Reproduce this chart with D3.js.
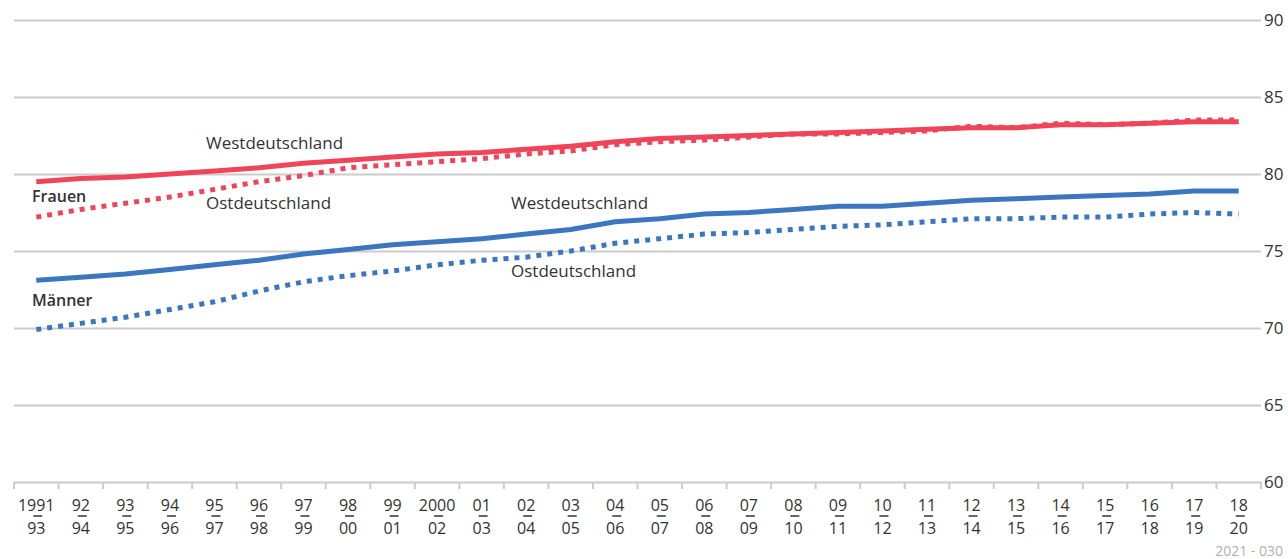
<!DOCTYPE html>
<html>
<head>
<meta charset="utf-8">
<script src="https://cdn.jsdelivr.net/npm/d3@7"></script>
<style>
  body { margin: 0; background: #fff; }
  text { font-family: "Open Sans", sans-serif; fill: #333; }
</style>
</head>
<body>
<div id="chart"></div>
<script>
// life expectancy at birth, three-year periods
var periodStart = ["1991", "92", "93", "94", "95", "96", "97", "98", "99", "2000",
    "01", "02", "03", "04", "05", "06", "07", "08", "09", "10",
    "11", "12", "13", "14", "15", "16", "17", "18"];
var periodEnd = ["93", "94", "95", "96", "97", "98", "99", "00", "01", "02",
    "03", "04", "05", "06", "07", "08", "09", "10", "11", "12",
    "13", "14", "15", "16", "17", "18", "19", "20"];

var womenWest = [79.5, 79.7, 79.8, 80.0, 80.2, 80.4, 80.7, 80.9, 81.1, 81.3,
    81.4, 81.6, 81.8, 82.1, 82.3, 82.4, 82.5, 82.6, 82.7, 82.8,
    82.9, 83.0, 83.0, 83.2, 83.2, 83.3, 83.4, 83.4];
var womenEast = [77.2, 77.7, 78.1, 78.5, 79.0, 79.5, 79.9, 80.4, 80.6, 80.8,
    81.0, 81.3, 81.5, 81.9, 82.1, 82.2, 82.4, 82.6, 82.6, 82.7,
    82.8, 83.1, 83.0, 83.3, 83.2, 83.3, 83.5, 83.5];
var menWest = [73.1, 73.3, 73.5, 73.8, 74.1, 74.4, 74.8, 75.1, 75.4, 75.6,
    75.8, 76.1, 76.4, 76.9, 77.1, 77.4, 77.5, 77.7, 77.9, 77.9,
    78.1, 78.3, 78.4, 78.5, 78.6, 78.7, 78.9, 78.9];
var menEast = [69.9, 70.3, 70.7, 71.2, 71.7, 72.4, 73.0, 73.4, 73.7, 74.1,
    74.4, 74.6, 75.0, 75.5, 75.8, 76.1, 76.2, 76.4, 76.6, 76.7,
    76.9, 77.1, 77.1, 77.2, 77.2, 77.4, 77.5, 77.4];

var yTicks = [60, 65, 70, 75, 80, 85, 90];

var red = "#ef4459";
var blue = "#3b77bf";

var svgWidth = 1288;
var svgHeight = 559;
var margin = { top: 20, right: 27, bottom: 77, left: 14 };
var width = svgWidth - margin.left - margin.right;
var height = svgHeight - margin.top - margin.bottom;

var svg = d3.select("#chart")
    .append("svg")
    .attr("width", svgWidth)
    .attr("height", svgHeight);

var chartGroup = svg.append("g")
    .attr("transform", `translate(${margin.left}, ${margin.top})`);

var xScale = d3.scaleBand()
    .domain(d3.range(periodStart.length))
    .range([0, width]);

var yScale = d3.scaleLinear()
    .domain([60, 90])
    .range([height, 0]);

// gridlines + right axis
var rightAxis = d3.axisRight(yScale)
    .tickValues(yTicks)
    .tickSize(-width)
    .tickPadding(5);

var yAxisGroup = chartGroup.append("g")
    .attr("transform", `translate(${width}, 0)`)
    .call(rightAxis);
yAxisGroup.select(".domain").remove();
yAxisGroup.selectAll("line")
    .attr("stroke", "#cbcbcb")
    .attr("stroke-width", 2);
yAxisGroup.selectAll("text")
    .attr("font-size", 17)
    .attr("dx", -2)
    .attr("fill", "#333");

// band boundary ticks
var boundaries = d3.range(periodStart.length).map(i => xScale(i)).concat([width]);
chartGroup.append("g")
    .selectAll("line")
    .data(boundaries)
    .enter()
    .append("line")
    .attr("x1", d => d)
    .attr("x2", d => d)
    .attr("y1", height)
    .attr("y2", height + 7)
    .attr("stroke", "#cbcbcb")
    .attr("stroke-width", 2);

// category labels
var bottomAxis = d3.axisBottom(xScale).tickSize(0).tickFormat("");
var xAxisGroup = chartGroup.append("g")
    .attr("transform", `translate(0, ${height})`)
    .call(bottomAxis);
xAxisGroup.select(".domain").remove();

var ticks = xAxisGroup.selectAll(".tick");
ticks.append("text")
    .attr("y", 28.5)
    .attr("font-size", 16)
    .attr("text-anchor", "middle")
    .attr("fill", "#333")
    .text(d => periodStart[d]);
ticks.append("line")
    .attr("x1", -3)
    .attr("x2", 6)
    .attr("y1", 34)
    .attr("y2", 34)
    .attr("stroke", "#333")
    .attr("stroke-width", 1.5);
ticks.append("text")
    .attr("y", 52)
    .attr("font-size", 16)
    .attr("text-anchor", "middle")
    .attr("fill", "#333")
    .text(d => periodEnd[d]);

// lines
var line = d3.line()
    .x((d, i) => xScale(i) + xScale.bandwidth() / 2)
    .y(d => yScale(d));

var series = [
    { values: menWest, color: blue, dash: null },
    { values: menEast, color: blue, dash: "5,6" },
    { values: womenWest, color: red, dash: null },
    { values: womenEast, color: red, dash: "5,6" }
];

series.forEach(function (s) {
    chartGroup.append("path")
        .datum(s.values)
        .attr("fill", "none")
        .attr("stroke", s.color)
        .attr("stroke-width", 5)
        .attr("stroke-dasharray", s.dash)
        .attr("d", line);
});

// annotations
var labels = [
    { text: "Westdeutschland", x: 206, y: 149, weight: 400 },
    { text: "Ostdeutschland", x: 206, y: 209, weight: 400 },
    { text: "Frauen", x: 32, y: 201.5, weight: 600 },
    { text: "Männer", x: 32, y: 306, weight: 600 },
    { text: "Westdeutschland", x: 511, y: 209, weight: 400 },
    { text: "Ostdeutschland", x: 511, y: 277, weight: 400 }
];

svg.selectAll(".annot")
    .data(labels)
    .enter()
    .append("text")
    .attr("class", "annot")
    .attr("x", d => d.x)
    .attr("y", d => d.y)
    .attr("font-size", d => d.weight > 400 ? 16 : 17)
    .attr("font-weight", d => d.weight)
    .attr("fill", "#333")
    .text(d => d.text);

svg.append("text")
    .attr("x", 1283)
    .attr("y", 556)
    .attr("text-anchor", "end")
    .attr("font-size", 14)
    .style("fill", "#b0b0b0")
    .text("2021 - 030");
</script>
</body>
</html>
